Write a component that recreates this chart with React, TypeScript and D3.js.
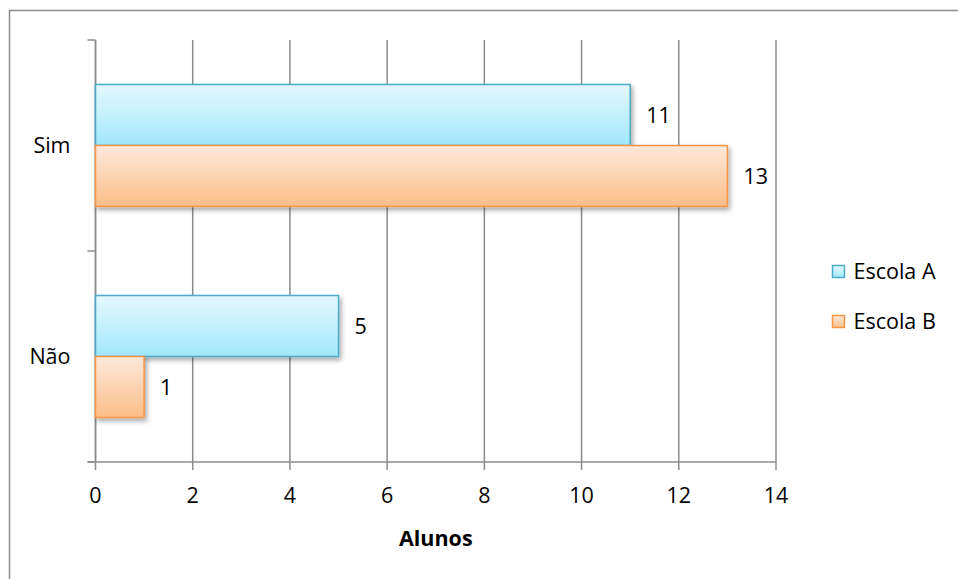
import React from "react";
import * as d3 from "d3";

const categories = ["Sim", "Não"];
const seriesNames = ["Escola A", "Escola B"];
const escolaA = [11, 5];
const escolaB = [13, 1];
const xTicks = [0, 2, 4, 6, 8, 10, 12, 14];
const axisTitle = "Alunos";

const W = 958;
const H = 579;
const FONT = "'Open Sans', Lato, 'DejaVu Sans', sans-serif";
const FS = 21.5;

export default function App() {
  const margin = { left: 95.5, right: 182, top: 40, bottom: 117 };
  const x = d3.scaleLinear().domain([0, 14]).range([margin.left, W - margin.right]);
  const y = d3
    .scaleBand<string>()
    .domain(categories)
    .range([margin.top, H - margin.bottom]);
  const inner = d3
    .scaleBand<string>()
    .domain(seriesNames)
    .range([0, y.bandwidth()])
    .paddingOuter(0.73)
    .paddingInner(0);

  const series = [
    { name: seriesNames[0], values: escolaA, grad: "gA", stroke: "#4bacc6" },
    { name: seriesNames[1], values: escolaB, grad: "gB", stroke: "#f79646" },
  ];

  const bottom = H - margin.bottom;
  const boundaries = [margin.top, ...categories.map((c) => (y(c) as number) + y.bandwidth())];

  return (
    <svg width={W} height={H} style={{ position: "absolute", left: 0, top: 0 }}>
      <defs>
        <linearGradient id="gA" x1="0" y1="0" x2="0" y2="1">
          <stop offset="0" stopColor="#e3f9fe" />
          <stop offset="1" stopColor="#a2e7fb" />
        </linearGradient>
        <linearGradient id="gB" x1="0" y1="0" x2="0" y2="1">
          <stop offset="0" stopColor="#fde9db" />
          <stop offset="1" stopColor="#fbbd88" />
        </linearGradient>
        <filter id="shadow" x="-10%" y="-20%" width="130%" height="160%">
          <feGaussianBlur in="SourceAlpha" stdDeviation="2.5" />
          <feOffset dx="2" dy="3" result="ob" />
          <feComponentTransfer>
            <feFuncA type="linear" slope="0.35" />
          </feComponentTransfer>
          <feMerge>
            <feMergeNode />
            <feMergeNode in="SourceGraphic" />
          </feMerge>
        </filter>
      </defs>
      <rect x={0} y={0} width={W} height={H} fill="#ffffff" />
      {/* chart frame */}
      <path d={`M9.5,${H} L9.5,10.5 L${W},10.5`} fill="none" stroke="#8c8c8c" strokeWidth={1.5} />

      {/* vertical gridlines */}
      {xTicks.map((t) => (
        <line key={`g${t}`} x1={x(t)} x2={x(t)} y1={margin.top} y2={bottom + 8} stroke="#8c8c8c" strokeWidth={1.5} />
      ))}

      {/* category axis */}
      <line x1={x(0)} x2={x(0)} y1={margin.top} y2={bottom} stroke="#8c8c8c" strokeWidth={1.5} />
      {boundaries.map((b, i) => (
        <line key={`yt${i}`} x1={x(0) - 8} x2={x(0)} y1={b} y2={b} stroke="#8c8c8c" strokeWidth={1.5} />
      ))}
      <line x1={x(0) - 8} x2={x(14)} y1={bottom} y2={bottom} stroke="#8c8c8c" strokeWidth={1.5} />

      {/* bars */}
      {series.map((s) =>
        categories.map((c, i) => {
          const by = (y(c) as number) + (inner(s.name) as number);
          return (
            <rect
              key={`${s.name}-${c}`}
              x={x(0)}
              y={by}
              width={x(s.values[i]) - x(0)}
              height={inner.bandwidth()}
              fill={`url(#${s.grad})`}
              stroke={s.stroke}
              strokeWidth={1.5}
              filter="url(#shadow)"
            />
          );
        })
      )}

      {/* value labels */}
      {series.map((s) =>
        categories.map((c, i) => {
          const by = (y(c) as number) + (inner(s.name) as number) + inner.bandwidth() / 2;
          return (
            <text
              key={`l${s.name}-${c}`}
              x={x(s.values[i]) + 16}
              y={by}
              dy="0.35em"
              fontFamily={FONT}
              fontSize={FS}
              fill="#000"
            >
              {s.values[i]}
            </text>
          );
        })
      )}

      {/* category labels */}
      {categories.map((c) => (
        <text
          key={`c${c}`}
          x={x(0) - 25}
          y={(y(c) as number) + y.bandwidth() / 2}
          dy="0.35em"
          textAnchor="end"
          fontFamily={FONT}
          fontSize={FS}
        >
          {c}
        </text>
      ))}

      {/* x tick labels */}
      {xTicks.map((t) => (
        <text key={`t${t}`} x={x(t)} y={bottom + 33} dy="0.35em" textAnchor="middle" fontFamily={FONT} fontSize={FS}>
          {t}
        </text>
      ))}
      <text x={(x(0) + x(14)) / 2} y={bottom + 76} dy="0.35em" textAnchor="middle" fontFamily={FONT} fontSize={FS} fontWeight="bold">
        {axisTitle}
      </text>

      {/* legend */}
      {series.map((s, i) => (
        <g key={`lg${i}`} transform={`translate(832.5, ${265.5 + i * 50})`}>
          <rect width={12} height={12} fill={`url(#${s.grad})`} stroke={s.stroke} strokeWidth={1.5} />
          <text x={21} y={6} dy="0.35em" fontFamily={FONT} fontSize={FS}>
            {s.name}
          </text>
        </g>
      ))}
    </svg>
  );
}
